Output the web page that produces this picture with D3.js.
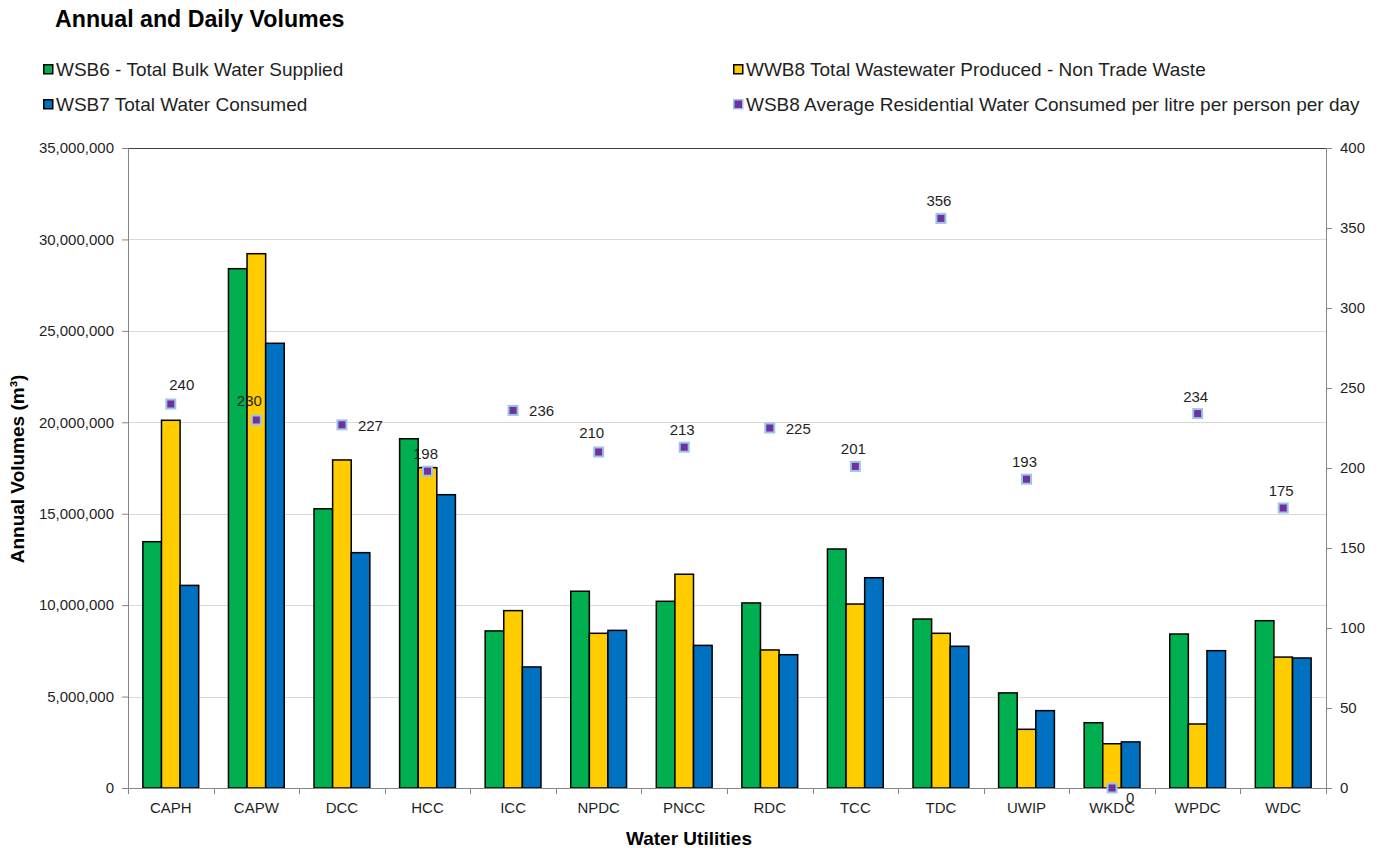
<!DOCTYPE html>
<html>
<head>
<meta charset="utf-8">
<script src="https://cdn.jsdelivr.net/npm/d3@7"></script>
<style>
  html, body { margin: 0; padding: 0; background: #fff; }
  svg { display: block; font-family: "Liberation Sans", Arial, sans-serif; }
</style>
</head>
<body>
<svg id="chart" width="1380" height="848"></svg>
<script>
// Water utilities shown along the x axis
const utilities = ["CAPH", "CAPW", "DCC", "HCC", "ICC", "NPDC", "PNCC", "RDC", "TCC", "TDC", "UWIP", "WKDC", "WPDC", "WDC"];

// Annual volumes (m³)
const bulkSupplied   = [13470000, 28400000, 15270000, 19100000, 8590000, 10760000, 10210000, 10120000, 13070000, 9240000, 5200000, 3570000, 8420000, 9150000];
const wastewater     = [20110000, 29220000, 17940000, 17520000, 9700000, 8460000, 11690000, 7550000, 10060000, 8460000, 3210000, 2420000, 3500000, 7160000];
const waterConsumed  = [11080000, 24320000, 12870000, 16040000, 6620000, 8620000, 7800000, 7290000, 11500000, 7750000, 4230000, 2520000, 7510000, 7110000];

// Average residential consumption, litres per person per day (right axis)
const residentialLpd = [240, 230, 227, 198, 236, 210, 213, 225, 201, 356, 193, 0, 234, 175];

// Axis ticks
const leftTicks  = [0, 5000000, 10000000, 15000000, 20000000, 25000000, 30000000, 35000000];
const rightTicks = [0, 50, 100, 150, 200, 250, 300, 350, 400];

// Series names
const barSeriesNames = ["WSB6 - Total Bulk Water Supplied", "WWB8 Total Wastewater Produced - Non Trade Waste", "WSB7 Total Water Consumed"];
const pointSeriesName = "WSB8 Average Residential Water Consumed per litre per person per day";

// Where each value label sits around its marker
const labelPlacement = ["above+", "above-", "right", "above", "right", "above-", "above", "right", "above", "above", "above", "belowRight", "above", "above"];

const colors = { bulk: "#00B050", waste: "#FFCC00", consumed: "#0070C0", point: "#7030A0", pointEdge: "#9DC3E6" };

const svg = d3.select("#chart");
const plot = { left: 128, right: 1326, top: 148, bottom: 788 };

const x = d3.scaleBand().domain(utilities).range([plot.left, plot.right]).padding(0);
const barKeys = ["bulk", "waste", "consumed"];
const xSub = d3.scaleBand().domain(barKeys).range([0, x.bandwidth()]).paddingInner(0).paddingOuter(0.8);
const yLeft = d3.scaleLinear().domain([0, 35000000]).range([plot.bottom, plot.top]);
const yRight = d3.scaleLinear().domain([0, 400]).range([plot.bottom, plot.top]);

const tickColor = "#868686";
const textColor = "#1f1f1f";

// Horizontal gridlines
svg.append("g")
  .selectAll("line")
  .data(leftTicks.filter(d => d > 0 && d < 35000000))
  .join("line")
  .attr("x1", plot.left).attr("x2", plot.right)
  .attr("y1", d => Math.round(yLeft(d)) + 0.5).attr("y2", d => Math.round(yLeft(d)) + 0.5)
  .attr("stroke", "#D9D9D9").attr("stroke-width", 1);

// Top border of the plot
svg.append("line")
  .attr("x1", plot.left).attr("x2", plot.right)
  .attr("y1", plot.top + 0.5).attr("y2", plot.top + 0.5)
  .attr("stroke", "#404040").attr("stroke-width", 1);

// Bars
const rows = utilities.map((u, i) => ({ u, bulk: bulkSupplied[i], waste: wastewater[i], consumed: waterConsumed[i] }));
const groups = svg.append("g").selectAll("g")
  .data(rows)
  .join("g")
  .attr("transform", d => `translate(${x(d.u)},0)`);
groups.selectAll("rect")
  .data(d => barKeys.map(k => ({ k, v: d[k] })))
  .join("rect")
  .attr("x", d => xSub(d.k))
  .attr("width", xSub.bandwidth())
  .attr("y", d => yLeft(d.v))
  .attr("height", d => plot.bottom - yLeft(d.v))
  .attr("fill", d => colors[d.k])
  .attr("stroke", "#000").attr("stroke-width", 1.5);

// Left axis
const axL = svg.append("g")
  .attr("transform", `translate(${plot.left},0)`)
  .call(d3.axisLeft(yLeft).tickValues(leftTicks).tickFormat(d3.format(",")).tickSizeOuter(0).tickSize(6).tickPadding(8));
axL.select(".domain").attr("stroke", tickColor);
axL.selectAll(".tick line").attr("stroke", tickColor);
axL.selectAll(".tick text").attr("fill", textColor).attr("font-size", 15).attr("font-family", "Liberation Sans, Arial, sans-serif");

// Right axis
const axR = svg.append("g")
  .attr("transform", `translate(${plot.right},0)`)
  .call(d3.axisRight(yRight).tickValues(rightTicks).tickSizeOuter(0).tickSize(6).tickPadding(8));
axR.select(".domain").attr("stroke", tickColor);
axR.selectAll(".tick line").attr("stroke", tickColor);
axR.selectAll(".tick text").attr("fill", textColor).attr("font-size", 15).attr("font-family", "Liberation Sans, Arial, sans-serif");

// Bottom axis: ticks between categories
const axB = svg.append("g").attr("transform", `translate(0,${plot.bottom})`);
axB.append("line").attr("x1", plot.left).attr("x2", plot.right).attr("y1", 0.5).attr("y2", 0.5).attr("stroke", tickColor);
const boundaries = utilities.map(u => x(u)).concat([plot.right]);
axB.selectAll("line.b").data(boundaries).join("line").attr("class", "b")
  .attr("x1", d => Math.round(d) + 0.5).attr("x2", d => Math.round(d) + 0.5)
  .attr("y1", 0).attr("y2", 6).attr("stroke", tickColor);
axB.selectAll("text").data(utilities).join("text")
  .attr("x", d => x(d) + x.bandwidth() / 2).attr("y", 25)
  .attr("text-anchor", "middle").attr("font-size", 15).attr("fill", textColor)
  .text(d => d);

// Residential consumption markers
const pts = utilities.map((u, i) => ({ u, v: residentialLpd[i], place: labelPlacement[i] }));
svg.append("g").selectAll("rect")
  .data(pts).join("rect")
  .attr("x", d => x(d.u) + x.bandwidth() / 2 - 4.5)
  .attr("y", d => yRight(d.v) - 4.5)
  .attr("width", 9).attr("height", 9)
  .attr("fill", colors.point).attr("stroke", colors.pointEdge).attr("stroke-width", 2);

const nudge = {
  "above":      { dx: -2,  dy: -12, anchor: "middle" },
  "above+":     { dx: 11,  dy: -14, anchor: "middle" },
  "above-":     { dx: -7,  dy: -14, anchor: "middle" },
  "right":      { dx: 16,  dy: 6,   anchor: "start" },
  "belowRight": { dx: 14,  dy: 15,  anchor: "start" }
};
svg.append("g").selectAll("text")
  .data(pts).join("text")
  .attr("x", d => x(d.u) + x.bandwidth() / 2 + nudge[d.place].dx)
  .attr("y", d => yRight(d.v) + nudge[d.place].dy)
  .attr("text-anchor", d => nudge[d.place].anchor)
  .attr("font-size", 15).attr("fill", textColor)
  .text(d => d.v);

// Axis titles
svg.append("text")
  .attr("transform", `translate(24,469) rotate(-90)`)
  .attr("text-anchor", "middle").attr("font-size", 19).attr("font-weight", "bold").attr("fill", "#000")
  .text("Annual Volumes (m³)");
svg.append("text")
  .attr("x", 689).attr("y", 845)
  .attr("text-anchor", "middle").attr("font-size", 19).attr("font-weight", "bold").attr("fill", "#000")
  .text("Water Utilities");

// Title
svg.append("text")
  .attr("x", 55).attr("y", 27)
  .attr("font-size", 23.2).attr("font-weight", "bold").attr("fill", "#000")
  .text("Annual and Daily Volumes");

// Legend (two columns)
const legendItems = [
  { name: barSeriesNames[0], fill: colors.bulk, edge: "#000", col: 0, row: 0 },
  { name: barSeriesNames[2], fill: colors.consumed, edge: "#000", col: 0, row: 1 },
  { name: barSeriesNames[1], fill: colors.waste, edge: "#000", col: 1, row: 0 },
  { name: pointSeriesName, fill: colors.point, edge: colors.pointEdge, col: 1, row: 1 }
];
const legend = svg.append("g").selectAll("g")
  .data(legendItems).join("g")
  .attr("transform", d => `translate(${d.col ? 733 : 43},${d.row ? 104 : 69})`);
legend.append("rect")
  .attr("x", 0.75).attr("y", -4.25).attr("width", 9).attr("height", 9)
  .attr("fill", d => d.fill).attr("stroke", d => d.edge).attr("stroke-width", 1.5);
legend.append("text")
  .attr("x", 13).attr("y", 6.5)
  .attr("font-size", 19).attr("fill", textColor)
  .text(d => d.name);
</script>
</body>
</html>
